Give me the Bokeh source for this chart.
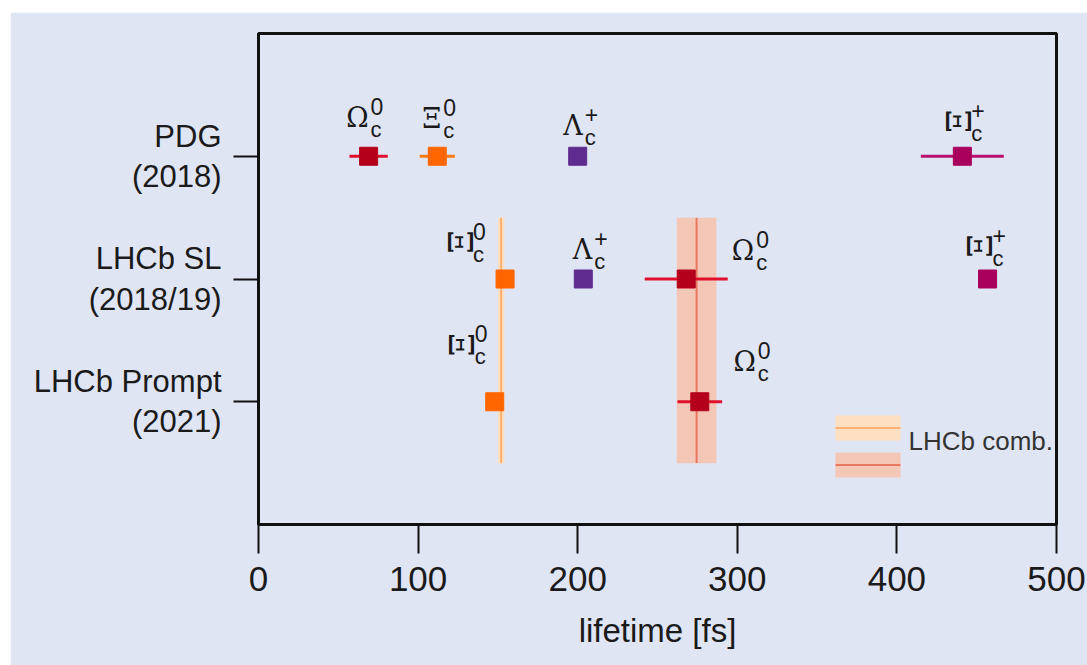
import math
from bokeh.plotting import figure
from bokeh.models import (ColumnDataSource, FixedTicker, BoxAnnotation, Label, Range1d)
from bokeh.core.properties import value
from bokeh.embed import file_html
from bokeh.resources import INLINE

# ---------------- data ----------------
rows = ["PDG\n(2018)", "LHCb SL\n(2018/19)", "LHCb Prompt\n(2021)"]
x_ticks = [0, 100, 200, 300, 400, 500]

meas_row = [0, 0, 0, 0, 1, 1, 1, 1, 2, 2]
meas_particle = ["Omega_c0", "Xi_c0", "Lambda_c+", "Xi_c+",
                 "Xi_c0", "Lambda_c+", "Omega_c0", "Xi_c+",
                 "Xi_c0", "Omega_c0"]
meas_value = [69.0, 112.0, 200.0, 441.0, 154.5, 203.5, 268.0, 456.8, 148.0, 276.5]
meas_error = [12.0, 11.0, 5.0, 26.0, 2.6, 2.2, 26.0, 5.5, 2.3, 14.0]

comb_particle = ["Xi_c0", "Omega_c0"]
comb_value = [152.0, 274.5]
comb_error = [2.0, 12.4]
comb_label = "LHCb comb."

# ---------------- styles ----------------
particle_symbol = {"Omega_c0": "Ω", "Xi_c0": "Ξ", "Lambda_c+": "Λ", "Xi_c+": "Ξ"}
particle_sup = {"Omega_c0": "0", "Xi_c0": "0", "Lambda_c+": "+", "Xi_c+": "+"}
particle_marker = {"Omega_c0": "#b5001c", "Xi_c0": "#ff6600", "Lambda_c+": "#5e2b8e", "Xi_c+": "#a8005c"}
particle_bar = {"Omega_c0": "#e0102c", "Xi_c0": "#ff7a10", "Lambda_c+": "#6a35a0", "Xi_c+": "#b8106c"}
comb_band_color = {"Xi_c0": "#fde0c2", "Omega_c0": "#f4c6b5"}
comb_line_color = {"Xi_c0": "#fdb070", "Omega_c0": "#e87862"}

# label placement (pixels, relative to marker): junction dx, centre dy, rotated symbol
label_dx = [0, 4, 5, 7, -34, 9, 68, 3, -22, 56]
label_dy = [-39, -38, -31, -35, -37, -30, -29, -33, -57, -40]
label_rot = [False, False, False, True, True, False, False, True, True, False]

band_extent = (0.5, 2.5)
BG = "#e0e5f4"
SYM_FONT = "DejaVu Serif"

row_pos = {i: len(rows) - i for i in range(len(rows))}
ys = [row_pos[r] for r in meas_row]

p = figure(width=1077, height=653, output_backend="svg", toolbar_location=None,
           x_range=Range1d(0, 500), y_range=Range1d(0, 4),
           min_border_left=248, min_border_right=31, min_border_top=21, min_border_bottom=141,
           background_fill_color=BG, border_fill_color=BG, margin=(12, 0, 0, 10))
p.grid.visible = False
p.outline_line_color = "#111111"
p.outline_line_width = 3

# combined bands
comb_src = ColumnDataSource(dict(
    left=[v - e for v, e in zip(comb_value, comb_error)],
    right=[v + e for v, e in zip(comb_value, comb_error)],
    x=comb_value,
    fill=[comb_band_color[c] for c in comb_particle],
    line=[comb_line_color[c] for c in comb_particle],
    bottom=[band_extent[0]] * len(comb_value),
    top=[band_extent[1]] * len(comb_value),
))
p.quad(left="left", right="right", bottom="bottom", top="top", source=comb_src,
       fill_color="fill", line_color=None)
p.segment(x0="x", x1="x", y0="bottom", y1="top", source=comb_src,
          line_color="line", line_width=2)

# error bars and markers
msrc = ColumnDataSource(dict(
    x=meas_value, y=ys,
    lo=[v - e for v, e in zip(meas_value, meas_error)],
    hi=[v + e for v, e in zip(meas_value, meas_error)],
    mcol=[particle_marker[q] for q in meas_particle],
    bcol=[particle_bar[q] for q in meas_particle],
))
p.segment(x0="lo", x1="hi", y0="y", y1="y", source=msrc, line_color="bcol", line_width=3)
p.scatter(x="x", y="y", source=msrc, marker="square", size=18,
          fill_color="mcol", line_color="mcol")

# particle labels
def lab_src(rot):
    idx = [i for i in range(len(meas_value)) if label_rot[i] == rot]
    return ColumnDataSource(dict(
        x=[meas_value[i] for i in idx], y=[ys[i] for i in idx],
        sym=[particle_symbol[meas_particle[i]] for i in idx],
        sup=[particle_sup[meas_particle[i]] for i in idx],
        sub=["c"] * len(idx),
        dx=[label_dx[i] for i in idx],
        dxr=[label_dx[i] - 10 for i in idx],
        dxs=[label_dx[i] + 2 for i in idx],
        dy=[label_dy[i] for i in idx],
        dyp=[label_dy[i] - 11 for i in idx],
        dyb=[label_dy[i] + 12 for i in idx],
    ))

for rot in (False, True):
    s = lab_src(rot)
    if rot:
        p.text(x="x", y="y", text="sym", source=s, x_offset="dxr", y_offset="dy",
               angle=math.pi / 2, text_align="center", text_baseline="middle",
               text_font=value(SYM_FONT), text_font_size="33px", text_color="#1a1a1a")
    else:
        p.text(x="x", y="y", text="sym", source=s, x_offset="dx", y_offset="dy",
               text_align="right", text_baseline="middle",
               text_font=value(SYM_FONT), text_font_size="27px", text_color="#1a1a1a")
    p.text(x="x", y="y", text="sup", source=s, x_offset="dxs", y_offset="dyp",
           text_align="left", text_baseline="middle",
           text_font=value("Liberation Sans"), text_font_size="23px", text_color="#1a1a1a")
    p.text(x="x", y="y", text="sub", source=s, x_offset="dxs", y_offset="dyb",
           text_align="left", text_baseline="middle",
           text_font=value("Liberation Sans"), text_font_size="22px", text_color="#1a1a1a")

# axes
p.xaxis.ticker = FixedTicker(ticks=x_ticks)
p.xaxis.axis_label = "lifetime [fs]"
p.yaxis.ticker = FixedTicker(ticks=[row_pos[i] for i in range(len(rows))])
p.yaxis.major_label_overrides = {row_pos[i]: rows[i] for i in range(len(rows))}
for ax in (p.xaxis, p.yaxis):
    ax.axis_line_color = "#111111"
    ax.axis_line_width = 3
    ax.major_tick_line_color = "#111111"
    ax.major_tick_line_width = 2
    ax.minor_tick_line_color = None
    ax.major_tick_in = 0
    ax.major_label_text_color = "#1a1a1a"
    ax.major_label_text_font = "Liberation Sans"
p.xaxis.major_tick_out = 29
p.yaxis.major_tick_out = 25
p.xaxis.major_label_text_font_size = "35px"
p.xaxis.major_label_standoff = 13
p.yaxis.major_label_text_font_size = "31px"
p.yaxis.major_label_standoff = 12
p.yaxis.major_label_text_line_height = 1.15
p.xaxis.axis_label_text_font = "Liberation Sans"
p.xaxis.axis_label_text_font_size = "33px"
p.xaxis.axis_label_text_font_style = "normal"
p.xaxis.axis_label_text_color = "#1a1a1a"
p.xaxis.axis_label_standoff = 18

# legend for the LHCb combination (screen units from frame bottom-left)
sw_left, sw_w, sw_h, sw_gap, sw_bottom = 577, 65, 25, 12, 47
for k, c in enumerate(reversed(comb_particle)):
    b = sw_bottom + k * (sw_h + sw_gap)
    p.add_layout(BoxAnnotation(left=sw_left, right=sw_left + sw_w, bottom=b, top=b + sw_h,
                               left_units="screen", right_units="screen",
                               bottom_units="screen", top_units="screen",
                               fill_color=comb_band_color[c], fill_alpha=1, line_color=None))
    p.add_layout(BoxAnnotation(left=sw_left, right=sw_left + sw_w,
                               bottom=b + sw_h / 2 - 1, top=b + sw_h / 2 + 1,
                               left_units="screen", right_units="screen",
                               bottom_units="screen", top_units="screen",
                               fill_color=comb_line_color[c], fill_alpha=1, line_color=None))
p.add_layout(Label(x=650, y=84, x_units="screen", y_units="screen", text=comb_label,
                   text_baseline="middle", text_font="Liberation Sans",
                   text_font_size="26px", text_color="#333333"))

open("out.html", "w").write(file_html(p, INLINE))
